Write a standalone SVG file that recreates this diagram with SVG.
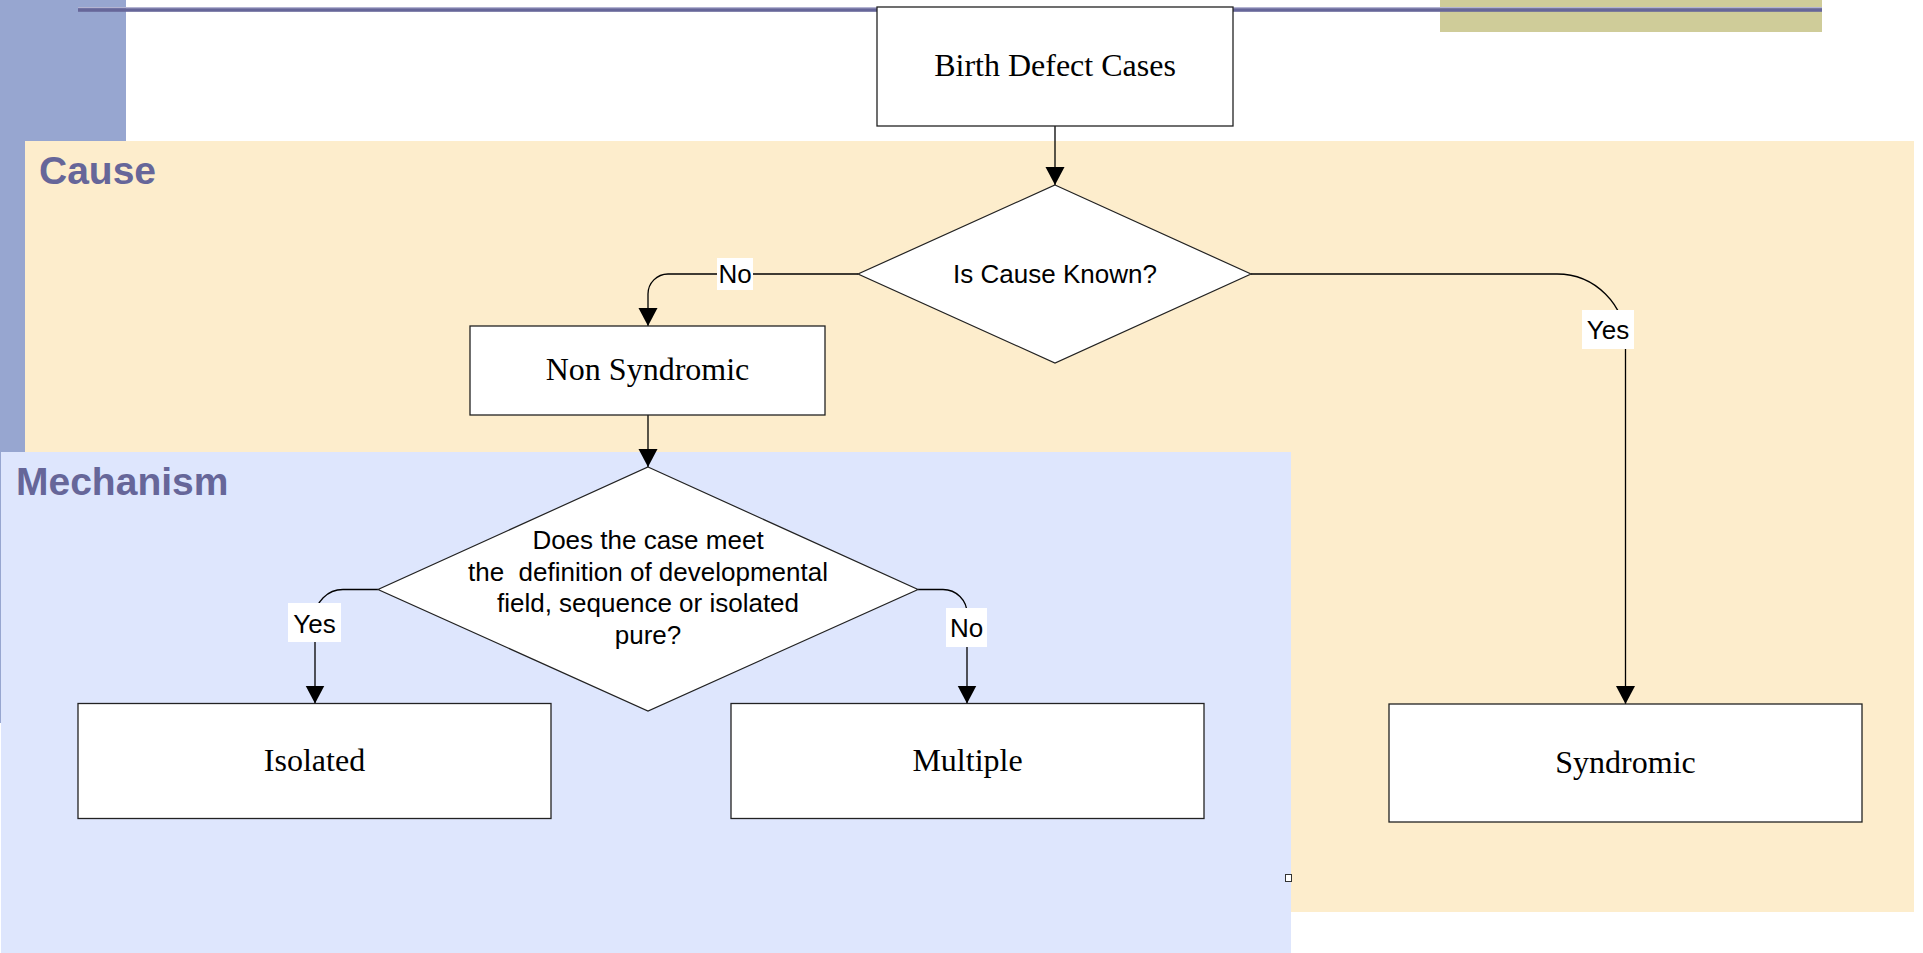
<svg xmlns="http://www.w3.org/2000/svg" width="1923" height="953" viewBox="0 0 1923 953">
<style>
.box{fill:#ffffff;stroke:#222222;stroke-width:1.3}
.dia{fill:#ffffff;stroke:#222222;stroke-width:1.2}
.serif{font-family:"Liberation Serif","Times New Roman",serif;font-size:32px;fill:#000000;text-anchor:middle}
.sans{font-family:"Liberation Sans",Arial,sans-serif;font-size:26px;fill:#000000;text-anchor:middle;white-space:pre}
.title{font-family:"Liberation Sans",Arial,sans-serif;font-size:39px;font-weight:bold;fill:#666699}
.conn{fill:none;stroke:#000000;stroke-width:1.3}
.lbl{fill:#ffffff;stroke:none}
</style>
<defs>
<marker id="arr" markerUnits="userSpaceOnUse" markerWidth="20" markerHeight="20" refX="18" refY="9.5" orient="auto">
<path d="M0,0 L18,9.5 L0,19 z" fill="#000000"/>
</marker>
</defs>
<g id="background">
<rect x="0" y="0" width="126" height="723" fill="#97A6D0"/>
<rect x="1440" y="0" width="382" height="32" fill="#CFCC99"/>
<rect x="78" y="7" width="1744" height="1.3" fill="#B4B4D2"/>
<rect x="78" y="8.2" width="1744" height="3.6" fill="#666699"/>
<rect x="25" y="141" width="1889" height="771" fill="#FDEDCC"/>
<rect x="1" y="452" width="1290" height="501" fill="#DEE6FD"/>
<rect x="1285.5" y="874.5" width="6" height="7" fill="#ffffff" stroke="#333333" stroke-width="1"/>
<text class="title" x="39" y="184">Cause</text>
<text class="title" x="16" y="495">Mechanism</text>
</g>
<g id="connectors">
<path class="conn" d="M1055,126 V185" marker-end="url(#arr)"/>
<path class="conn" d="M858,274 H668 A20,20 0 0 0 648,294 V326" marker-end="url(#arr)"/>
<path class="conn" d="M648,415 V467" marker-end="url(#arr)"/>
<path class="conn" d="M378,589.5 H343 A28,28 0 0 0 315,617.5 V703.5" marker-end="url(#arr)"/>
<path class="conn" d="M918,589.5 H943 A24,24 0 0 1 967,613.5 V703.5" marker-end="url(#arr)"/>
<path class="conn" d="M1251,274 H1557 A68.5,68.5 0 0 1 1625.5,342.5 V704" marker-end="url(#arr)"/>
<rect class="lbl" x="717" y="258" width="36" height="32"/>
<text class="sans" x="735" y="283">No</text>
<rect class="lbl" x="288" y="603" width="53" height="39"/>
<text class="sans" x="314.5" y="633">Yes</text>
<rect class="lbl" x="946" y="608" width="41" height="39"/>
<text class="sans" x="966.5" y="637">No</text>
<rect class="lbl" x="1582" y="310" width="52" height="39"/>
<text class="sans" x="1608" y="339">Yes</text>
</g>
<g id="birth">
<rect class="box" x="877" y="7" width="356" height="119"/>
<text class="serif" x="1055" y="76">Birth Defect Cases</text>
</g>
<g id="cause-known">
<polygon class="dia" points="1055,185 1251,274 1055,363 858,274"/>
<text class="sans" x="1055" y="283">Is Cause Known?</text>
</g>
<g id="non-syndromic">
<rect class="box" x="470" y="326" width="355" height="89"/>
<text class="serif" x="647.5" y="380">Non Syndromic</text>
</g>
<g id="definition">
<polygon class="dia" points="648,467 918,589.5 648,711 378,589.5"/>
<text class="sans" x="648" y="549">Does the case meet</text>
<text class="sans" x="648" y="580.5">the  definition of developmental</text>
<text class="sans" x="648" y="612">field, sequence or isolated</text>
<text class="sans" x="648" y="643.5">pure?</text>
</g>
<g id="isolated">
<rect class="box" x="78" y="703.5" width="473" height="115"/>
<text class="serif" x="314.5" y="771">Isolated</text>
</g>
<g id="multiple">
<rect class="box" x="731" y="703.5" width="473" height="115"/>
<text class="serif" x="967.5" y="771">Multiple</text>
</g>
<g id="syndromic">
<rect class="box" x="1389" y="704" width="473" height="118"/>
<text class="serif" x="1625.5" y="773">Syndromic</text>
</g>
</svg>
